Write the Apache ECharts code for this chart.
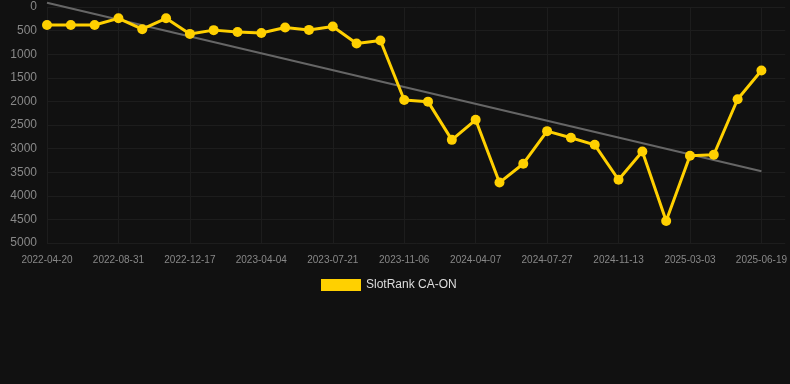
<!DOCTYPE html>
<html>
<head>
<meta charset="utf-8">
<script src="https://cdn.jsdelivr.net/npm/echarts@6/dist/echarts.min.js"></script>
<style>
  html, body { margin: 0; padding: 0; background: #111111; }
  #chart { width: 790px; height: 384px; }
</style>
</head>
<body>
<div id="chart"></div>
<script>
// dates for each ranking snapshot
const dates = [
  '2022-04-20', '2022-06-03', '2022-07-17', '2022-08-31', '2022-10-06', '2022-11-11',
  '2022-12-17', '2023-01-22', '2023-02-27', '2023-04-04', '2023-05-10', '2023-06-15',
  '2023-07-21', '2023-08-26', '2023-10-01', '2023-11-06', '2023-12-27', '2024-02-16',
  '2024-04-07', '2024-05-14', '2024-06-20', '2024-07-27', '2024-09-02', '2024-10-08',
  '2024-11-13', '2024-12-20', '2025-01-25', '2025-03-03', '2025-04-08', '2025-05-14',
  '2025-06-19'
];

// rank values (lower is better, axis inverted)
const ranks = [
  380, 380, 380, 240, 470, 240, 570, 490, 530, 550, 435, 485,
  415, 775, 710, 1970, 2005, 2815, 2390, 3720, 3320, 2630, 2770, 2920,
  3660, 3060, 4535, 3150, 3130, 1955, 1345
];

// trend line end points
const trendStart = -90;
const trendEnd = 3480;

const rankTicks = { min: 0, max: 5000, interval: 500 };

const chart = echarts.init(document.getElementById('chart'));

const option = {
  backgroundColor: '#111111',
  animation: false,
  grid: {
    left: 47,
    right: 4,
    top: 7,
    bottom: 141,
    containLabel: false
  },
  legend: {
    data: ['SlotRank CA-ON'],
    top: 274,
    left: 316,
    itemWidth: 40,
    itemHeight: 12,
    itemGap: 10,
    icon: 'rect',
    textStyle: { color: '#dddddd', fontSize: 12 }
  },
  xAxis: {
    type: 'category',
    data: dates,
    boundaryGap: false,
    max: dates.length,
    axisLine: { show: false },
    axisTick: { show: false },
    axisLabel: {
      interval: 2,
      color: '#888888',
      fontSize: 10,
      margin: 12
    },
    splitLine: {
      show: true,
      interval: 2,
      lineStyle: { color: '#1d1d1d' }
    }
  },
  yAxis: {
    type: 'value',
    inverse: true,
    min: rankTicks.min,
    max: rankTicks.max,
    interval: rankTicks.interval,
    axisLine: { show: false },
    axisTick: { show: false },
    axisLabel: {
      color: '#888888',
      fontSize: 12,
      margin: 10,
      formatter: function (v) { return String(v); }
    },
    splitLine: {
      lineStyle: { color: '#1d1d1d' }
    }
  },
  series: [
    {
      name: 'Trend',
      type: 'line',
      clip: false,
      data: [[dates[0], trendStart], [dates[dates.length - 1], trendEnd]],
      symbol: 'none',
      lineStyle: { color: '#666666', width: 2 },
      z: 1
    },
    {
      name: 'SlotRank CA-ON',
      type: 'line',
      data: ranks,
      symbol: 'circle',
      symbolSize: 10,
      itemStyle: { color: '#ffd000' },
      lineStyle: { color: '#ffd000', width: 3 },
      z: 2
    }
  ]
};

chart.setOption(option);
</script>
</body>
</html>
